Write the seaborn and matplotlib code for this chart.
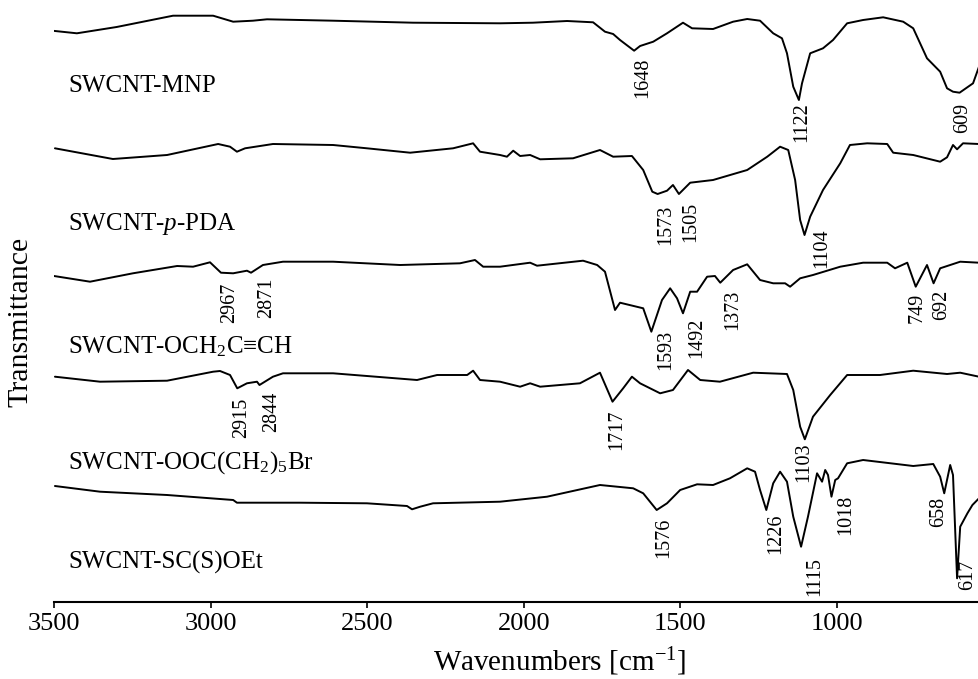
import seaborn as sns
import numpy as np
import pandas as pd
import matplotlib
matplotlib.use('Agg')  # render straight to file
import matplotlib.pyplot as plt

# FTIR spectra, transmittance in arbitrary units
wn_mnp = [3506, 3427, 3300, 3120, 2992, 2928, 2865, 2820, 2609, 2354, 2076, 1971, 1862, 1779, 1741, 1715, 1693,
          1648, 1629, 1587, 1543, 1492, 1463, 1396, 1332, 1287, 1246, 1204, 1176, 1160, 1140, 1122, 1112,
          1086, 1045, 1013, 968, 917, 853, 789, 757, 713, 671, 649, 630, 609, 566, 547]
t_mnp = [29.3, 26.7, 33, 44.3, 44.3, 38.3, 39.3, 40.7, 39.3, 37.3, 36.7, 37.3, 39, 37.7, 28.3, 26, 20,
         9.3, 14, 18.3, 26.7, 37.3, 31.7, 31, 38.3, 41, 39.3, 26.7, 21.7, 6.7, -26.7, -40, -23.3,
         6.7, 11.7, 20, 36.7, 40, 42.7, 38.3, 31.7, 1.7, -11.7, -28.3, -31.7, -32.7, -23.3, -6.7]

wn_pda = [3497, 3312, 3139, 2976, 2938, 2916, 2890, 2801, 2609, 2501, 2363, 2226, 2162, 2140, 2076, 2054,
          2034, 2012, 1980, 1948, 1843, 1757, 1715, 1655, 1619, 1590, 1573, 1543, 1524, 1505, 1469, 1396,
          1287, 1223, 1182, 1156, 1134, 1118, 1104, 1086, 1045, 990, 959, 904, 840, 821, 757, 671,
          649, 630, 617, 598, 547]
t_pda = [6.7, -4, 0, 11, 8.3, 3.3, 6.7, 11, 10, 6.7, 2.3, 6.7, 11.7, 3.3, 0, -1.7,
         4.3, -1, 0, -4.3, -3.3, 5, -1.7, -1, -15, -36.7, -39, -35.7, -30, -39, -27.7, -25,
         -15, -1.7, 8.3, 5, -25, -65, -80, -61.7, -35, -8.3, 10, 11.7, 11, 2.3, 0, -6.7,
         -2.3, 10, 5.7, 11.7, 11]

wn_alk = [3500, 3385, 3248, 3107, 3056, 3002, 2967, 2928, 2884, 2871, 2833, 2769, 2609, 2395, 2204, 2156,
          2130, 2076, 1980, 1958, 1811, 1766, 1741, 1709, 1693, 1619, 1593, 1559, 1533, 1511, 1492, 1469,
          1447, 1415, 1390, 1373, 1332, 1287, 1246, 1204, 1166, 1150, 1118, 1077, 990, 917, 840, 815,
          776, 749, 713, 692, 671, 607, 547]
t_alk = [-11, -16.7, -8.3, -1, -1.7, 2.7, -7.7, -8.3, -5.7, -7.7, 0, 3.3, 3.3, 0, 1.7, 5,
         -1.7, -1.7, 2.3, -0.7, 4.3, 0, -6.7, -45, -37.7, -43.3, -66.7, -35, -23.3, -33.3, -48.3, -26.7,
         -26.7, -11.7, -11, -17.7, -5, 0.7, -15, -18.3, -18.3, -21.7, -13.3, -10, -1.7, 2.3, 2.3, -3.3,
         2.3, -21.7, 0, -18.3, -3.3, 3.3, 2.3]

wn_br = [3497, 3353, 3139, 2992, 2970, 2938, 2915, 2884, 2852, 2844, 2801, 2769, 2609, 2341, 2277, 2181,
         2162, 2140, 2076, 2012, 1980, 1948, 1821, 1757, 1717, 1683, 1655, 1629, 1565, 1524, 1476, 1437,
         1374, 1268, 1160, 1140, 1118, 1103, 1077, 1022, 968, 863, 757, 649, 607, 547]
t_br = [3.3, -1.7, -0.7, 8.3, 9, 5, -8.3, -3.3, -1.7, -5, 3.3, 6.7, 6.7, 0, 5, 5,
        9.3, 0, -1.7, -6.7, -3.3, -6.7, -3.3, 7.3, -21.7, -8.3, 3.3, -3.3, -13.3, -10, 10, 0,
        -1.7, 7.3, 6, -10, -46.7, -59.3, -36.7, -15, 5, 5, 9.3, 6, 7.3, 3.3]

wn_xan = [3497, 3353, 3139, 2928, 2916, 2715, 2501, 2373, 2357, 2331, 2290, 2076, 1926, 1757, 1651, 1619,
          1576, 1543, 1501, 1447, 1396, 1342, 1287, 1262, 1246, 1226, 1204, 1182, 1160, 1140, 1115, 1093,
          1064, 1048, 1038, 1029, 1018, 1006, 997, 968, 917, 757, 693, 671, 658, 639, 630, 617,
          607, 584, 568, 547]
t_xan = [14, 8.3, 5, 0, -2.7, -2.7, -3.3, -6, -9.3, -6.7, -3.3, -1.7, 3.3, 15, 11.7, 6.7,
         -10, -3.3, 10, 15.7, 15, 21.7, 31.7, 28.3, 10, -10, 16.7, 28.3, 18.3, -16.7, -46.7, -16.7,
         26.7, 18.3, 30, 25, 3.3, 20, 21.7, 36.7, 40, 34, 36, 23.3, 6.7, 35, 25, -78.3,
         -26.7, -13.3, -5, 1.7]

names = ['SWCNT-MNP', 'SWCNT-$p$-PDA', 'SWCNT-OCH$_2$C≡CH',
         'SWCNT-OOC(CH$_2$)$_5$Br', 'SWCNT-SC(S)OEt']
spectra = [(wn_mnp, t_mnp), (wn_pda, t_pda), (wn_alk, t_alk), (wn_br, t_br), (wn_xan, t_xan)]
offsets = [542, 447, 337, 222, 102]
name_y = [510, 372, 249, 133, 33]

# peak labels: text, wavenumber of label centre, top of label
peak_txt = ['1648', '1122', '609', '1573', '1505', '1104', '2967', '2871', '1593', '1492', '1373',
            '749', '692', '2915', '2844', '1717', '1103', '1576', '1226', '1115', '1018', '658', '617']
peak_x = [1620, 1113, 598, 1547, 1467, 1050, 2938, 2820, 1547, 1448, 1332,
          746, 667, 2900, 2804, 1703, 1107, 1553, 1196, 1071, 972, 675, 582]
peak_y = [544, 500, 499, 397, 400, 374, 319, 324, 272, 284, 312,
          309, 312, 204, 210, 192, 160, 84, 89, 45, 107, 105, 42]

sns.set_theme(style='white')
plt.rcParams['font.family'] = ['Liberation Serif', 'DejaVu Serif']
plt.rcParams['mathtext.fontset'] = 'custom'
plt.rcParams['mathtext.rm'] = 'Liberation Serif'
plt.rcParams['mathtext.it'] = 'Liberation Serif:italic'

fig = plt.figure(figsize=(9.79, 6.79), dpi=100)
ax = fig.add_axes([54 / 979, 77 / 679, 925 / 979, 602 / 679])

for (wn, t), off in zip(spectra, offsets):
    df = pd.DataFrame({'wn': wn, 'T': np.array(t) + off})
    sns.lineplot(data=df, x='wn', y='T', color='black', lw=1.4, sort=False,
                 estimator=None, ax=ax)

for name, y in zip(names, name_y):
    ax.text(3455, y, name, fontsize=18, va='baseline', ha='left', color='black')

for txt, x, y in zip(peak_txt, peak_x, peak_y):
    ax.text(x, y, txt, rotation=90, fontsize=14.5, ha='center', va='top', color='black')

ax.set_xlim(3500, 547)
ax.set_ylim(0, 602)
ax.set_xticks([3500, 3000, 2500, 2000, 1500, 1000])
ax.set_yticks([])
for s in ['left', 'top', 'right']:
    ax.spines[s].set_visible(False)
ax.spines['bottom'].set_linewidth(1.5)
ax.spines['bottom'].set_color('black')
ax.tick_params(axis='x', bottom=True, direction='out', length=4, width=1.2,
               labelsize=19, pad=4, colors='black')

ax.set_xlabel('Wavenumbers [cm$^{-1}$]', fontsize=21, color='black')
ax.set_ylabel('Transmittance', fontsize=21.5, color='black')
ax.xaxis.set_label_coords(0.546, -0.072)
ax.yaxis.set_label_coords(-0.022, 0.465)

fig.savefig('out.png', dpi=100)
print("saved out.png")
